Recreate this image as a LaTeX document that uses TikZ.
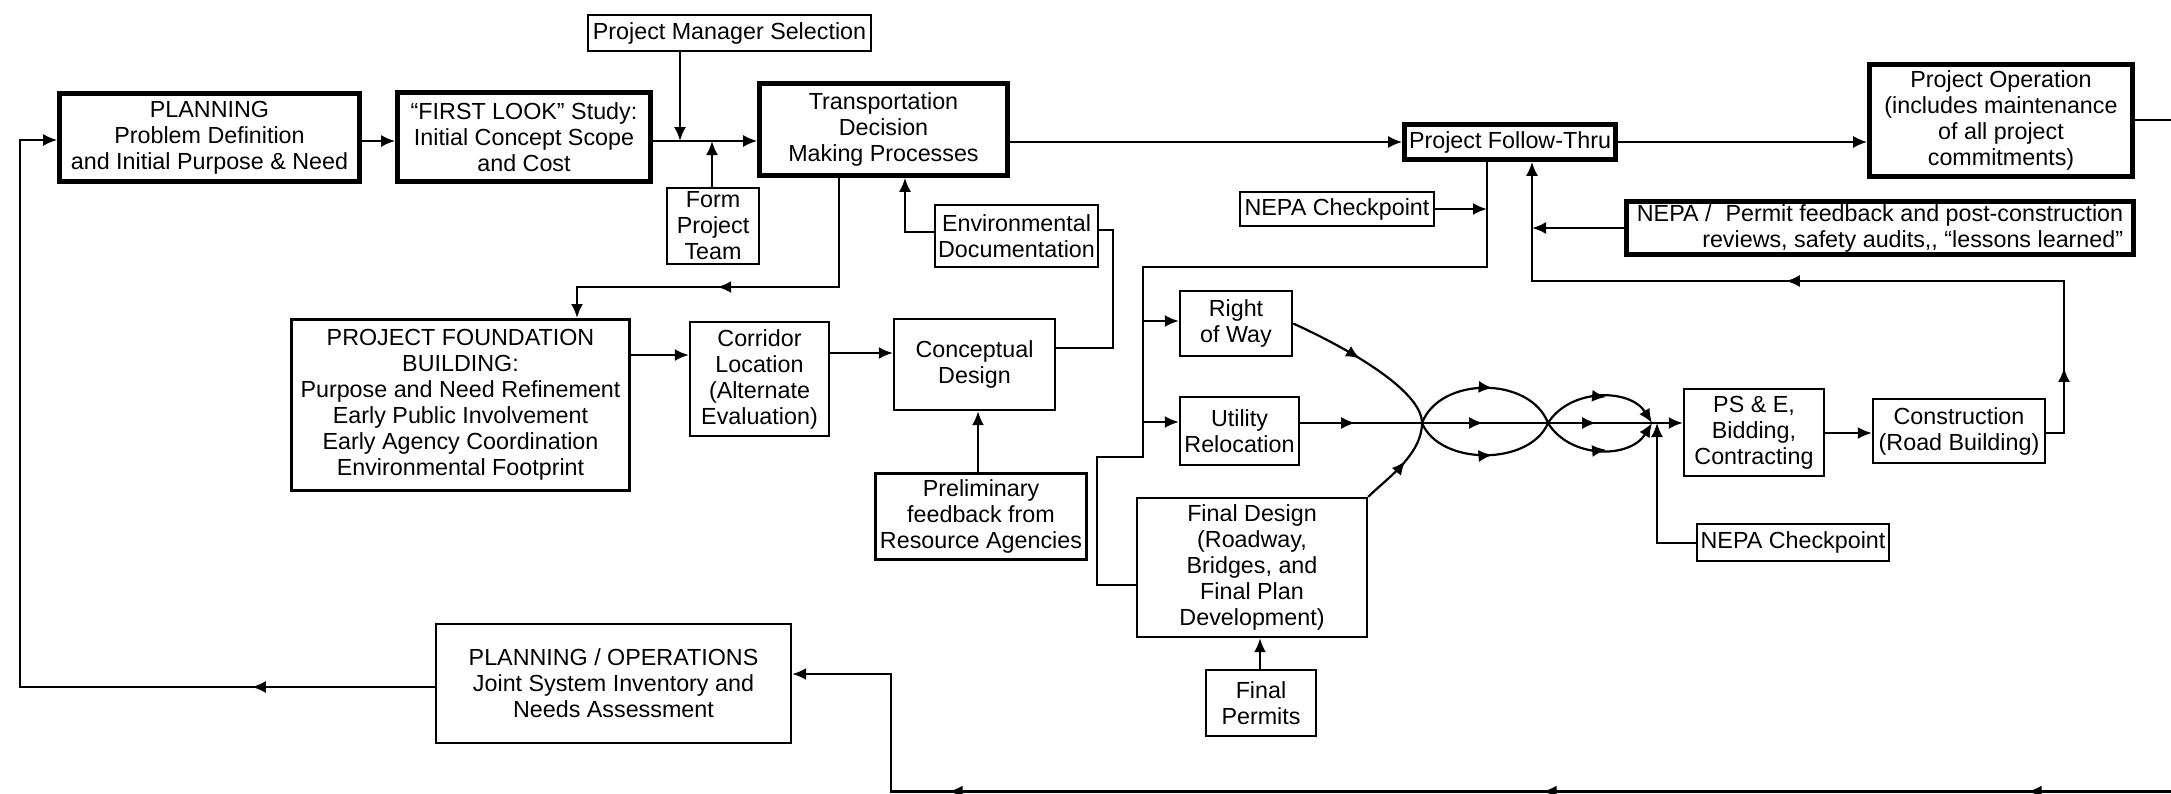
\documentclass[tikz,border=0pt]{standalone}
\usepackage{fontspec}
\setmainfont{Liberation Sans}
\usetikzlibrary{arrows.meta,decorations.markings}
\newcommand\dfont{\fontsize{23.3}{26}\selectfont}
\tikzset{
  box/.style={draw, line width=2.4pt, inner sep=0pt, align=center, font=\dfont},
  heavy/.style={box, line width=4.6pt},
  medium/.style={box, line width=3pt},
  conn/.style={line width=2.2pt},
  arr/.style={conn, -{Latex[length=14pt,width=12pt]}},
  midarr/.style={postaction={decorate, decoration={markings, mark=at position #1 with {\arrow{Latex[length=14pt,width=12pt]}}}}},
}
\begin{document}
\begin{tikzpicture}[x=1pt,y=-1pt]
\useasboundingbox (0,0) rectangle (2171,793);
\fill[white] (0,0) rectangle (2171,793);
\clip (0,0) rectangle (2171,793);

% nodes
\node[heavy, minimum width=300pt, minimum height=88pt] (plan) at (209.5,137.5) {PLANNING\\Problem Definition\\and Initial Purpose \& Need};
\node[heavy, minimum width=253pt, minimum height=89pt] (first) at (524,137) {“FIRST LOOK” Study:\\Initial Concept Scope\\and Cost};
\node[box, minimum width=283pt, minimum height=36pt] (pms) at (729.5,33) {Project Manager Selection};
\node[box, minimum width=92pt, minimum height=76pt] (team) at (713,226) {Form\\Project\\Team};
\node[heavy, minimum width=248pt, minimum height=92pt] (tdm) at (883.5,129.5) {Transportation\\Decision\\Making Processes};
\node[box, minimum width=163pt, minimum height=62pt] (env) at (1016.5,236) {Environmental\\Documentation};
\node[medium, minimum width=338pt, minimum height=171pt] (pf) at (460.5,405) {PROJECT FOUNDATION\\BUILDING:\\Purpose and Need Refinement\\Early Public Involvement\\Early Agency Coordination\\Environmental Footprint};
\node[box, minimum width=139pt, minimum height=114pt] (corr) at (759.5,379) {Corridor\\Location\\(Alternate\\Evaluation)};
\node[box, minimum width=161pt, minimum height=91pt] (cd) at (974.5,364.5) {Conceptual\\Design};
\node[medium, minimum width=211pt, minimum height=86pt] (prelim) at (981,516.5) {Preliminary\\feedback from\\Resource Agencies};
\node[box, minimum width=112pt, minimum height=65pt] (row) at (1236,323.5) {Right\\of Way};
\node[box, minimum width=119pt, minimum height=68pt] (util) at (1239.5,431) {Utility\\Relocation};
\node[box, minimum width=230pt, minimum height=139pt] (fd) at (1252,567.5) {Final Design\\(Roadway,\\Bridges, and\\Final Plan\\Development)};
\node[box, minimum width=110pt, minimum height=66pt] (fp) at (1261,703) {Final\\Permits};
\node[box, minimum width=140pt, minimum height=87pt] (pse) at (1754,432.5) {PS \& E,\\Bidding,\\Contracting};
\node[box, minimum width=172pt, minimum height=64pt] (cons) at (1959,431) {Construction\\(Road Building)};
\node[box, minimum width=192pt, minimum height=37pt] (nepa2) at (1793,542.5) {NEPA Checkpoint};
\node[box, minimum width=194pt, minimum height=34pt] (nepa1) at (1337,209) {NEPA Checkpoint};
\node[heavy, minimum width=211pt, minimum height=35pt] (fthru) at (1510,142) {Project Follow-Thru};
\node[heavy, minimum width=263pt, minimum height=112pt] (pop) at (2001,120.5) {Project Operation\\(includes maintenance\\of all project\\commitments)};
\node[heavy, minimum width=507pt, minimum height=53pt, align=right] (nepaf) at (1880,228) {NEPA /\hspace{0.6em}Permit feedback and post-construction\\reviews, safety audits,{},{} “lessons learned”};
\node[box, minimum width=355pt, minimum height=119pt] (po) at (613.5,683.5) {PLANNING / OPERATIONS\\Joint System Inventory and\\Needs Assessment};

% coordinates
\coordinate (L1) at (20,687); \coordinate (L2) at (20,140);
\coordinate (Y141) at (0,141); \coordinate (Y142) at (0,142);
\coordinate (J1) at (680,141); \coordinate (J2) at (712,141);
\coordinate (T1) at (839,287); \coordinate (T2) at (577,287);
\coordinate (E1) at (905,232);
\coordinate (Y355) at (0,355); \coordinate (Y353) at (0,353);
\coordinate (C1) at (1113,348); \coordinate (C2) at (1113,230);
\coordinate (P1) at (978,0);
\coordinate (F1) at (1487,267); \coordinate (F2) at (1143,267); \coordinate (F3) at (1143,457);
\coordinate (F4) at (1097,457); \coordinate (F5) at (1097,585);
\coordinate (R1) at (1143,321); \coordinate (U1) at (1143,422);
\coordinate (N1) at (1487,209);
\coordinate (X1) at (1422,423); \coordinate (X2) at (1548,423); \coordinate (X3) at (1652,423);
\coordinate (N2) at (1657,543); \coordinate (N3) at (1657,423);
\coordinate (Y433) at (0,433);
\coordinate (K1) at (2064,433); \coordinate (K2) at (2064,281); \coordinate (K3) at (1532,281);
\coordinate (B1) at (2185,120); \coordinate (B2) at (2185,791.5); \coordinate (B3) at (891,791.5); \coordinate (B4) at (891,674);
\coordinate (Q1) at (1260,0);

% connectors
\draw[arr, midarr=183pt] (po.west |- L1) -- (L1) -- (L2) -- (plan.west |- L2);
\draw[arr] (plan.east |- Y141) -- (first.west |- Y141);
\draw[arr] (first.east |- J1) -- (tdm.west |- J1);
\draw[arr] (pms.south -| J1) -- (J1);
\draw[arr] (team.north -| J2) -- (J2);
\draw[arr] (tdm.east |- Y142) -- (fthru.west);
\draw[arr, midarr=231pt] (tdm.south -| T1) -- (T1) -- (T2) -- (pf.north -| T2);
\draw[arr] (env.west |- E1) -- (E1) -- (tdm.south -| E1);
\draw[arr] (pf.east |- Y355) -- (corr.west |- Y355);
\draw[arr] (corr.east |- Y353) -- (cd.west |- Y353);
\draw[conn] (cd.east |- C1) -- (C1) -- (C2) -- (env.east |- C2);
\draw[arr] (prelim.north -| P1) -- (cd.south -| P1);
\draw[conn] (fthru.south -| F1) -- (F1) -- (F2) -- (F3) -- (F4) -- (F5) -- (fd.west |- F5);
\draw[arr] (R1) -- (row.west |- R1);
\draw[arr] (U1) -- (util.west |- U1);
\draw[arr] (nepa1.east |- N1) -- (N1);
\draw[conn, midarr=0.45] (row.east) .. controls (1345,347) and (1422,390) .. (X1);
\draw[conn, midarr=0.55] (fd.north east) .. controls (1385,480) and (1422,455) .. (X1);
\draw[arr, midarr=55pt, midarr=183pt, midarr=296pt] (util.east |- X1) -- (pse.west |- X1);
\draw[conn, midarr=0.55] (X1) .. controls (1440,376) and (1530,376) .. (X2);
\draw[conn, midarr=0.55] (X1) .. controls (1440,466) and (1530,466) .. (X2);
\draw[arr, midarr=0.55] (X2) .. controls (1570,388) and (1630,388) .. (X3);
\draw[arr, midarr=0.55] (X2) .. controls (1570,459) and (1630,459) .. (X3);
\draw[arr] (nepa2.west |- N2) -- (N2) -- (N3);
\draw[arr] (pse.east |- Y433) -- (cons.west |- Y433);
\draw[arr, midarr=83pt, midarr=448pt] (cons.east |- K1) -- (K1) -- (K2) -- (K3) -- (fthru.south -| K3);
\draw[arr] (nepaf.west) -- (nepaf.west -| K3);
\draw[arr] (fthru.east) -- (pop.west |- fthru.east);
\draw[arr, midarr=879pt, midarr=1364pt, midarr=1958pt] (pop.east |- B1) -- (B1) -- (B2) -- (B3) -- (B4) -- (po.east |- B4);
\draw[arr] (fp.north -| Q1) -- (fd.south -| Q1);
\end{tikzpicture}
\end{document}
